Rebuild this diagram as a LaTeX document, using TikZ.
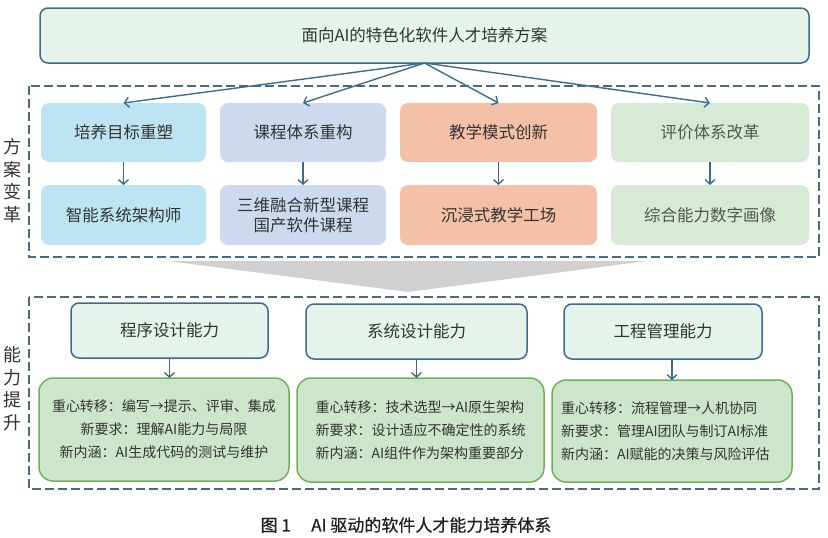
\documentclass[tikz,border=0pt]{standalone}
\usepackage{fontspec}
\setmainfont{Noto Sans CJK SC}
\newfontfamily\capfont[FakeBold=0.6]{Noto Sans CJK SC}
\usetikzlibrary{arrows.meta}
\definecolor{topfill}{HTML}{E6F3EA}
\definecolor{bluebd}{HTML}{3C6A94}
\definecolor{arrowc}{HTML}{3A6D8C}
\definecolor{cA}{HTML}{BDE4F3}
\definecolor{cB}{HTML}{CCD9EE}
\definecolor{cC}{HTML}{F5C1A6}
\definecolor{cD}{HTML}{D6EAD5}
\definecolor{lvfill}{HTML}{CDE6CB}
\definecolor{lvbd}{HTML}{6DB356}
\definecolor{funnel}{HTML}{D0D0D0}
\definecolor{dashc}{HTML}{4A6A82}
\definecolor{txt}{HTML}{333333}
\definecolor{txtgray}{HTML}{555555}
\begin{document}
\begin{tikzpicture}[x=1pt,y=-1pt,
  every node/.style={inner sep=0pt,outer sep=0pt,text=txt},
  bluebox/.style={draw=bluebd,line width=1.5pt,fill=topfill,rounded corners=8pt,
    font=\fontsize{16.5}{20}\selectfont},
  planbox/.style={rounded corners=8pt,minimum height=59pt,align=center,
    font=\fontsize{16.5}{21}\selectfont},
  greenbox/.style={draw=lvbd,line width=1.5pt,fill=lvfill,rounded corners=14pt,
    font=\fontsize{14}{23}\selectfont},
  arr/.style={draw=arrowc,line width=1.4pt,-{Straight Barb[length=4.5pt,width=10pt]}},
  dashbox/.style={draw=dashc,line width=1.4pt,dash pattern=on 9pt off 4pt},
  sidelabel/.style={align=center,font=\fontsize{18}{22.5}\selectfont}
]
\useasboundingbox (0,0) rectangle (828,538);

% top title
\node[bluebox,minimum width=769pt,minimum height=55pt] (top) at (424.5,35.5) {面向AI的特色化软件人才培养方案};

% dashed frames
\draw[dashbox] (29,86) rectangle (819,257);
\draw[dashbox] (29,297) rectangle (819,489);

% side labels
\node[sidelabel] (lab1) at (12,180.5) {方\\案\\变\\革};
\node[sidelabel] (lab2) at (12,388.5) {能\\力\\提\\升};

% plan boxes row 1
\node[planbox,fill=cA,minimum width=165pt] (p1) at (123.5,132.5) {培养目标重塑};
\node[planbox,fill=cB,minimum width=166pt] (p2) at (303,132.5) {课程体系重构};
\node[planbox,fill=cC,minimum width=197pt] (p3) at (498.5,132.5) {教学模式创新};
\node[planbox,fill=cD,minimum width=198pt,text=txtgray] (p4) at (710,132.5) {评价体系改革};

% plan boxes row 2
\node[planbox,fill=cA,minimum width=165pt,minimum height=60pt] (q1) at (123.5,215) {智能系统架构师};
\node[planbox,fill=cB,minimum width=166pt,minimum height=60pt,font=\fontsize{16.5}{20}\selectfont] (q2) at (303,215) {三维融合新型课程\\国产软件课程};
\node[planbox,fill=cC,minimum width=197pt,minimum height=60pt] (q3) at (498.5,215) {沉浸式教学工场};
\node[planbox,fill=cD,minimum width=198pt,minimum height=60pt,text=txtgray] (q4) at (710,215) {综合能力数字画像};

% arrows from top
\foreach \b in {p1,p2,p3,p4} \draw[arr] (top.south) -- (\b.north);
\foreach \a/\b in {p1/q1,p2/q2,p3/q3,p4/q4} \draw[arr] (\a.south) -- (\b.north);

% funnel
\fill[funnel] (168,261) -- (647,261) -- (408,292) -- cycle;

% ability boxes
\node[bluebox,minimum width=197pt,minimum height=55pt] (a1) at (169.5,330.5) {程序设计能力};
\node[bluebox,minimum width=221pt,minimum height=55pt] (a2) at (416.5,331.5) {系统设计能力};
\node[bluebox,minimum width=198pt,minimum height=55pt] (a3) at (663,331.5) {工程管理能力};

\node[greenbox,minimum width=250pt,minimum height=103pt,align=center] (b1) at (164,429.5)
  {重心转移：编写→提示、评审、集成\\新要求：理解AI能力与局限\\新内涵：AI生成代码的测试与维护};
\node[greenbox,minimum width=247pt,minimum height=104pt,align=left] (b2) at (420.5,430)
  {重心转移：技术选型→AI原生架构\\新要求：设计适应不确定性的系统\\新内涵：AI组件作为架构重要部分};
\node[greenbox,minimum width=240pt,minimum height=102pt,align=left,text width=222pt] (b3) at (672,431)
  {重心转移：流程管理→人机协同\\新要求：管理AI团队与制订AI标准\\新内涵：AI赋能的决策与风险评估};

\draw[arr] (a1.south) -- (a1.south |- b1.north);
\draw[arr] (a2.south) -- (a2.south |- b2.north);
\draw[arr] (a3.south -| b3.north) -- (b3.north);

% caption
\node[font=\capfont\fontsize{17}{19}\selectfont,text=black!88] (cap) at (406,525) {图 1\hspace{1.2em}AI 驱动的软件人才能力培养体系};
\end{tikzpicture}
\end{document}
